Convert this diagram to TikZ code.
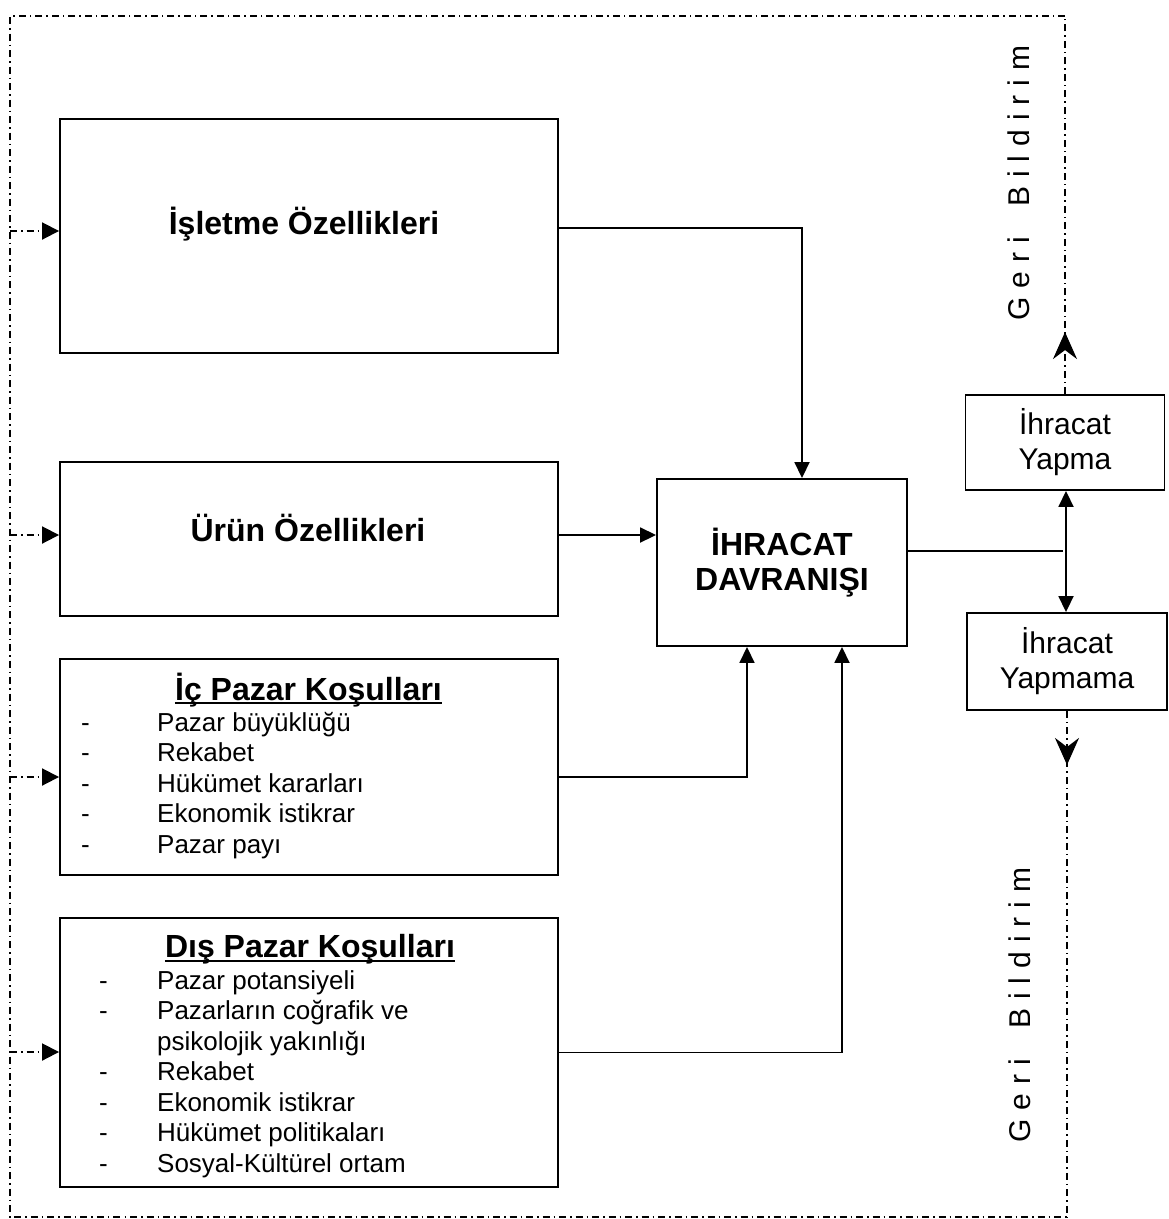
\documentclass[tikz,border=0pt]{standalone}
\usepackage{fontspec}
\setmainfont{Liberation Sans}
\usetikzlibrary{arrows.meta,decorations.markings,calc}
\newcommand{\gsp}{\hspace{9pt}}
\begin{document}
\begin{tikzpicture}[x=1pt,y=-1pt,
  box/.style={draw, line width=1.9pt, inner sep=0pt},
  bigbox/.style={box, minimum width=498pt},
  hdr/.style={inner sep=0pt, font=\fontsize{32}{35}\selectfont\bfseries},
  itemlist/.style={inner sep=0pt, font=\fontsize{26}{30.5}\selectfont},
  small/.style={font=\fontsize{30}{35}\selectfont, align=center},
  fb/.style={line width=1.9pt, dash pattern=on 7pt off 4pt on 1.5pt off 4pt},
  conn/.style={line width=1.8pt, -{Triangle[length=16pt,width=15pt]}},
  inarr/.style={fb, -{Triangle[length=17pt,width=17pt]}},
  fbmark/.style={postaction=decorate, decoration={markings, mark=at position #1 with {\arrow{Stealth[length=27pt,width=24pt,inset=9pt]}}}},
  gb/.style={rotate=90, inner sep=0pt, font=\fontsize{30}{35}\selectfont}
]
\useasboundingbox (0,0) rectangle (1169,1219);

% boxes
\node[bigbox, minimum height=234pt] (isletme) at (309,236) {};
\node[bigbox, minimum height=154pt] (urun) at (309,539) {};
\node[bigbox, minimum height=216pt] (ic) at (309,767) {};
\node[bigbox, minimum height=269pt] (dis) at (309,1052.5) {};
\node[box, minimum width=250pt, minimum height=167pt, font=\fontsize{32}{35}\selectfont\bfseries, align=center] (davr) at (782,562.5) {İHRACAT\\DAVRANIŞI};
\node[box, small, minimum width=199pt, minimum height=95pt] (yapma) at (1065,442.5) {İhracat\\Yapma};
\node[box, small, minimum width=200pt, minimum height=97pt] (yapmama) at (1067,661.5) {İhracat\\Yapmama};

% texts
\node[hdr, anchor=base] (islt) at (304,234) {İşletme Özellikleri};
\node[hdr, anchor=base] (urnt) at (308,541) {Ürün Özellikleri};
\node[hdr, anchor=base] (icht) at (308.5,700) {İç Pazar Koşulları};
\draw[line width=2.6pt] ([yshift=-3pt]icht.base west) -- ([yshift=-3pt]icht.base east);
\node[hdr, anchor=base] (disht) at (310,957) {Dış Pazar Koşulları};
\draw[line width=2.6pt] ([yshift=-4pt]disht.base west) -- ([yshift=-4pt]disht.base east);

\node[itemlist, anchor=base west] (icl) at (81,731) {%
\begin{tabular}[t]{@{}p{76pt}@{}l@{}}
- & Pazar büyüklüğü\\
- & Rekabet\\
- & Hükümet kararları\\
- & Ekonomik istikrar\\
- & Pazar payı
\end{tabular}};
\node[itemlist, anchor=base west] (disl) at (99,989) {%
\begin{tabular}[t]{@{}p{58pt}@{}l@{}}
- & Pazar potansiyeli\\
- & Pazarların coğrafik ve\\
  & psikolojik yakınlığı\\
- & Rekabet\\
- & Ekonomik istikrar\\
- & Hükümet politikaları\\
- & Sosyal-Kültürel ortam
\end{tabular}};

\node[gb] (gb1) at (1019,183) {G\gsp e\gsp r\gsp i\hspace{30pt}B\gsp i\gsp l\gsp d\gsp i\gsp r\gsp i\gsp m};
\node[gb] (gb2) at (1020,1005) {G\gsp e\gsp r\gsp i\hspace{30pt}B\gsp i\gsp l\gsp d\gsp i\gsp r\gsp i\gsp m};

% coordinates
\coordinate (TL) at (10,16);
\coordinate (BL) at (10,1217);
\coordinate (J) at (1063,551);
\coordinate (V) at (1066,0);
\coordinate (L1) at (10,231);
\coordinate (L2) at (10,535);
\coordinate (L3) at (10,777);
\coordinate (L4) at (10,1052);

% main connectors
\draw[conn] ([yshift=8pt]isletme.east) -| ([xshift=20pt]davr.north);
\draw[conn] ([yshift=4pt]urun.east) -- ([yshift=4pt]urun.east -| davr.west);
\draw[conn] ([yshift=-10pt]ic.east) -| ([xshift=-35pt]davr.south);
\draw[conn] (dis.east) -| ([xshift=60pt]davr.south);
\draw[line width=1.8pt] (davr.east |- J) -- (J);
\draw[line width=1.8pt, {Triangle[length=16pt,width=15pt]}-{Triangle[length=16pt,width=15pt]}] (yapma.south -| V) -- (yapmama.north -| V);

% feedback loop
\draw[fb, fbmark=62pt] (yapma.north) -- (yapma.north |- TL);
\draw[fb] (yapma.north |- TL) -- (TL) -- (BL) -- (yapmama.south |- BL);
\draw[fb, fbmark=54pt] (yapmama.south) -- (yapmama.south |- BL);

% feedback inputs
\draw[inarr] (L1) -- (L1 -| isletme.west);
\draw[inarr] (L2) -- (L2 -| urun.west);
\draw[inarr] (L3) -- (L3 -| ic.west);
\draw[inarr] (L4) -- (L4 -| dis.west);
\end{tikzpicture}
\end{document}
